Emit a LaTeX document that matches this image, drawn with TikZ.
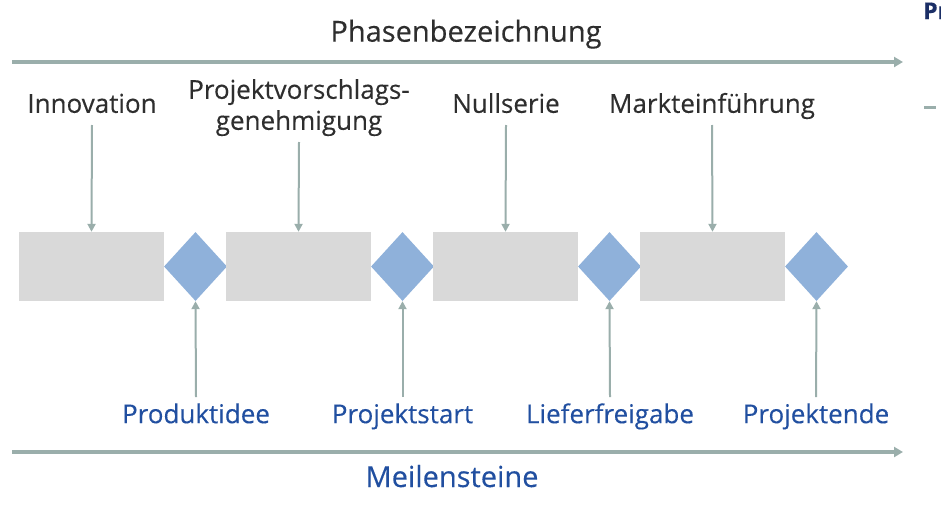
\documentclass[tikz,border=0pt]{standalone}
\usepackage{fontspec}
\setmainfont[FakeBold=0.3]{Open Sans}
\usetikzlibrary{shapes.geometric,arrows.meta}
\definecolor{phasegrau}{HTML}{D9D9D9}
\definecolor{rautenblau}{HTML}{8FB1DA}
\definecolor{pfeilgrau}{HTML}{9AAEAB}
\definecolor{textgrau}{HTML}{2E2E2E}
\definecolor{msblau}{HTML}{214FA0}
\definecolor{navy}{HTML}{1B2F66}

\begin{document}
\begin{tikzpicture}[x=1pt, y=-1pt,
    phase/.style={fill=phasegrau, minimum width=145pt, minimum height=69pt, inner sep=0pt},
    raute/.style={diamond, fill=rautenblau, minimum width=63pt, minimum height=69pt, inner sep=0pt},
    pfeil/.style={pfeilgrau, line width=2pt, -{Triangle[length=8pt,width=8pt]}},
    achse/.style={pfeilgrau, line width=4pt, -{Triangle[length=9pt,width=10pt]}},
    oben/.style={textgrau, font=\fontsize{26}{31}\selectfont, text depth=7pt, inner sep=5pt, anchor=south, align=center},
    unten/.style={msblau, font=\fontsize{26}{31}\selectfont, text height=21pt, inner sep=5pt, anchor=north},
    titel/.style={font=\fontsize{29}{34}\selectfont, anchor=base}]
        \useasboundingbox (0,0) rectangle (941,506);
        % Achsen
        \node[titel, textgrau] (phasen) at (466,41.7) {Phasenbezeichnung};
        \coordinate (o1) at (12,62);
        \coordinate (o2) at (903,62);
        \draw[achse] (o1) -- (o2);
        \coordinate (u1) at (12,452);
        \coordinate (u2) at (903,452);
        \draw[achse] (u1) -- (u2);
        \node[titel, msblau] (meilen) at (452,487) {Meilensteine};
        % Phasen und Meilensteine
        \foreach \i in {1,...,4} {
            \node[phase] (ph\i) at ({91.5+207*(\i-1)},266.5) {};
            \node[raute] (ms\i) at ({195.5+207*(\i-1)},266.5) {};
        }
        \node[oben] (l1) at (92,125) {Innovation};
        \node[oben] (l2) at (299,142) {Projektvorschlags-\\genehmigung};
        \node[oben] (l3) at (506,125) {Nullserie};
        \node[oben] (l4) at (712,125) {Markteinführung};
        \node[unten] (m1) at (196,397) {Produktidee};
        \node[unten] (m2) at (402.5,397) {Projektstart};
        \node[unten] (m3) at (610,397) {Lieferfreigabe};
        \node[unten] (m4) at (816,397) {Projektende};
        \foreach \i in {1,...,4} {
            \draw[pfeil] (l\i.south) -- (ph\i.north);
            \draw[pfeil] (m\i.north) -- (ms\i.south);
        }
        % Rest am Rand
        \node[navy, font=\bfseries\fontsize{23}{27}\selectfont, anchor=base west, inner sep=0pt] (rand) at (923,19) {Pr};
        \draw[pfeilgrau, line width=3pt] (924,107) -- (936,107);
\end{tikzpicture}
\end{document}
